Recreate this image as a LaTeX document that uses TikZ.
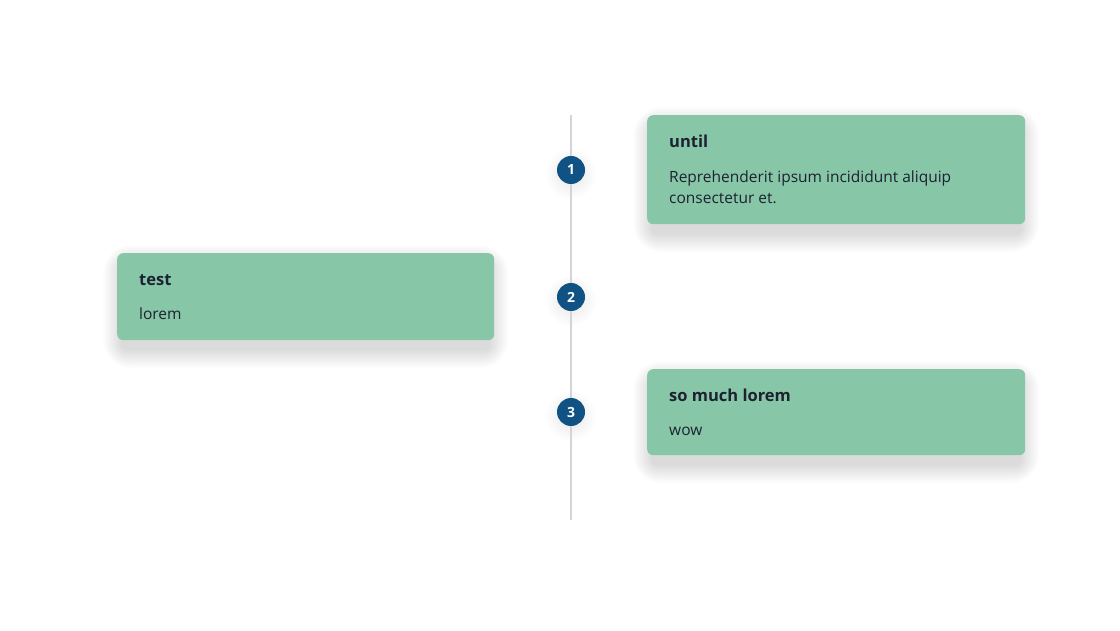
\documentclass[tikz,border=0pt]{standalone}
\usepackage{fontspec}
\setmainfont{Open Sans}
\definecolor{cardgreen}{HTML}{88C6A8}
\definecolor{dotblue}{HTML}{0F5283}
\definecolor{txt}{HTML}{1C2230}
\definecolor{linegray}{HTML}{D4D4D8}
\pgfdeclarelayer{bg}
\pgfdeclarelayer{shadow}
\pgfsetlayers{bg,shadow,main}
\tikzset{
  card/.style={fill=cardgreen, rounded corners=6pt, draw=none, anchor=north west, inner sep=0pt},
  cardtitle/.style={anchor=base west, inner sep=0pt, text=txt, font=\fontsize{16.5}{20}\selectfont\bfseries},
  cardbody/.style={anchor=base west, inner sep=0pt, text=txt, align=left, font=\fontsize{15.5}{21}\selectfont},
  dot/.style={circle, fill=dotblue, minimum size=28pt, inner sep=0pt, text=white,
    font=\fontsize{14}{14}\selectfont\bfseries},
  shadelayer/.style={fill=black, opacity=0.011},
}
\newcommand{\cardshadow}[1]{%
  \foreach \e in {0,2,...,22}{%
    \fill[shadelayer, rounded corners={6pt+\e pt}]
      ([shift={(-0.8*\e pt+4pt,0.8*\e pt-10pt)}]#1.north west) rectangle ([shift={(0.8*\e pt-4pt,-0.8*\e pt-10pt)}]#1.south east);
  }}
\newcommand{\dotshadow}[1]{%
  \foreach \e in {0,2,...,12}{%
    \fill[black, opacity=0.009] ([yshift=-4pt]#1.center) circle ({13pt+\e pt});
  }}
\begin{document}
\begin{tikzpicture}[x=1pt,y=1pt]
\begin{pgfonlayer}{bg}
\fill[white] (0,0) rectangle (1120,630);
\end{pgfonlayer}
\useasboundingbox (0,0) rectangle (1120,630);
\coordinate (ltop) at (571,515);
\coordinate (lbot) at (571,110);
\draw[linegray, line width=1.5pt] (ltop) -- (lbot);
% cards
\node[card, minimum width=378pt, minimum height=109pt] (c1) at (647,515) {};
\node[card, minimum width=377pt, minimum height=87pt] (c2) at (117,377) {};
\node[card, minimum width=378pt, minimum height=86pt] (c3) at (647,261) {};
% dots
\node[dot] (d1) at (571,460) {1};
\node[dot] (d2) at (571,333) {2};
\node[dot] (d3) at (571,218) {3};
% shadows
\begin{pgfonlayer}{shadow}
  \cardshadow{c1}\cardshadow{c2}\cardshadow{c3}
  \dotshadow{d1}\dotshadow{d2}\dotshadow{d3}
\end{pgfonlayer}
% texts
\node[cardtitle] (t1) at (669,482) {until};
\node[cardbody] (b1) at (669,426) {Reprehenderit ipsum incididunt aliquip\\consectetur et.};
\node[cardtitle] (t2) at (139,344) {test};
\node[cardbody] (b2) at (139,310) {lorem};
\node[cardtitle] (t3) at (669,228) {so much lorem};
\node[cardbody] (b3) at (669,194) {wow};
\end{tikzpicture}
\end{document}
